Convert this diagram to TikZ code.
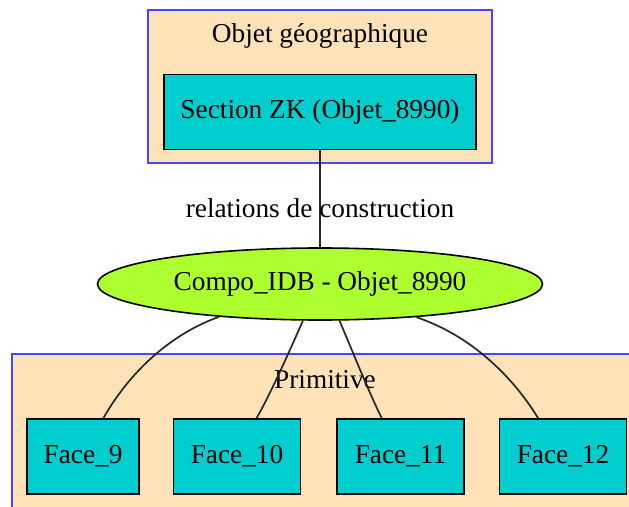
\documentclass[tikz,border=0pt]{standalone}
\usepackage{fontspec}
\setmainfont{Liberation Serif}
\usetikzlibrary{shapes.geometric, calc, positioning}
\definecolor{clusterfill}{RGB}{255,226,184}
\definecolor{clusterline}{RGB}{70,70,255}
\definecolor{cyanthree}{RGB}{0,205,205}
\definecolor{greenyellow}{RGB}{173,255,47}
\tikzstyle{cluster} = [rectangle, draw=clusterline, line width=2pt, fill=clusterfill]
\tikzstyle{block} = [rectangle, draw=black, line width=1.6pt, fill=cyanthree, inner sep=0pt, minimum height=75pt, text centered]
\tikzstyle{compo} = [ellipse, draw=black, line width=1.6pt, fill=greenyellow, inner sep=0pt, minimum width=445pt, minimum height=72pt]
\tikzstyle{link} = [line width=1.7pt, draw=black!85]

\begin{document}
\begin{tikzpicture}[x=1pt, y=1pt, font=\fontsize{27.3}{33}\selectfont]
		\clip (0,0) rectangle (629,-506);
		\draw [cluster] (148,-10) rectangle (492,-163);
		\draw [cluster] (12,-354) rectangle (660,-540);
		\node (GeoLabel) at (320,-36) {Objet géographique};
		\node (PrimLabel) at (325,-380) {Primitive};
		\node (Section) [block, minimum width=312pt] at (320,-112) {Section ZK (Objet\_8990)};
		\node (Compo) [compo] at (320,-284) {Compo\_IDB - Objet\_8990};
		\node (Face9) [block, minimum width=112pt] at (83,-456.5) {Face\_9};
		\node (Face10) [block, minimum width=127pt] at (237,-456.5) {Face\_10};
		\node (Face11) [block, minimum width=127pt] at (400.5,-456.5) {Face\_11};
		\node (Face12) [block, minimum width=127pt] at (563,-456.5) {Face\_12};
		\draw [link] (Section.south) -- node [pos=0.6] {relations de construction} (Compo.north);
		\draw [link] (Compo.198) .. controls (160,-338) and (122,-385) .. (Face9.62);
		\draw [link] (Compo.245) .. controls (290,-350) and (270,-395) .. (Face10.63);
		\draw [link] (Compo.298) .. controls (352,-350) and (370,-395) .. (Face11.116);
		\draw [link] (Compo.341) .. controls (478,-338) and (518,-385) .. (Face12.123);
		\end{tikzpicture}
\end{document}
